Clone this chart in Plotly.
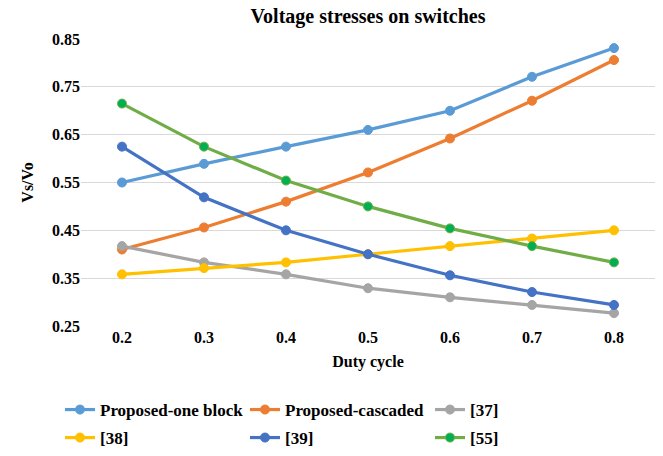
import plotly.graph_objects as go

# Duty cycle values on the horizontal axis
duty_cycle = [0.2, 0.3, 0.4, 0.5, 0.6, 0.7, 0.8]

# Normalised switch voltage stress Vs/Vo for each converter
proposed_one_block = [0.55, 0.589, 0.625, 0.66, 0.70, 0.771, 0.831]
proposed_cascaded = [0.41, 0.456, 0.51, 0.571, 0.642, 0.721, 0.806]
ref_37 = [0.417, 0.383, 0.358, 0.329, 0.31, 0.294, 0.277]
ref_38 = [0.358, 0.371, 0.383, 0.40, 0.417, 0.433, 0.45]
ref_39 = [0.625, 0.519, 0.45, 0.40, 0.356, 0.321, 0.294]
ref_55 = [0.715, 0.625, 0.554, 0.50, 0.454, 0.417, 0.383]

y_ticks = [0.25, 0.35, 0.45, 0.55, 0.65, 0.75, 0.85]

series = [
    ("Proposed-one block", proposed_one_block, "#5B9BD5", "#5B9BD5", "legend"),
    ("Proposed-cascaded", proposed_cascaded, "#ED7D31", "#ED7D31", "legend"),
    ("[37]", ref_37, "#A5A5A5", "#A5A5A5", "legend"),
    ("[38]", ref_38, "#FFC000", "#FFC000", "legend2"),
    ("[39]", ref_39, "#4472C4", "#4472C4", "legend2"),
    ("[55]", ref_55, "#70AD47", "#00B050", "legend2"),
]

FONT = "Liberation Serif, Times New Roman, serif"


def bold_font(size):
    return dict(family=FONT, size=size, color="#000000", weight="bold")


fig = go.Figure()
for name, vals, line_col, mark_col, leg in series:
    fig.add_trace(go.Scatter(
        x=duty_cycle, y=vals, name=name, mode="lines+markers",
        line=dict(color=line_col, width=3.2),
        marker=dict(color=mark_col, size=9, line=dict(color=line_col, width=1)),
        legend=leg,
    ))

legend_common = dict(
    orientation="h", xref="container", yref="container",
    xanchor="left", yanchor="middle", entrywidth=140, entrywidthmode="pixels",
    font=bold_font(17),
    bgcolor="rgba(0,0,0,0)", borderwidth=0, traceorder="normal",
)

fig.update_layout(
    width=663, height=456,
    margin=dict(l=81, r=8, t=39, b=130),
    paper_bgcolor="white", plot_bgcolor="white",
    font=bold_font(16),
    title=dict(text="Voltage stresses on switches", x=368 / 663, xanchor="center",
               y=1 - 16 / 456, yanchor="middle", font=bold_font(20)),
    legend=dict(x=60 / 663, y=1 - 410 / 456, **legend_common),
    legend2=dict(x=60 / 663, y=1 - 438 / 456, **legend_common),
    showlegend=True,
)

fig.update_xaxes(
    range=[0.15, 0.85], tickvals=duty_cycle, ticktext=[f"{v:.1f}" for v in duty_cycle],
    showgrid=False, zeroline=False, showline=False, ticks="",
    tickfont=bold_font(16),
    title=dict(text="Duty cycle", font=bold_font(16), standoff=10),
)
fig.update_yaxes(
    range=[0.25, 0.85], tickvals=y_ticks, ticktext=[f"{v:.2f}" for v in y_ticks],
    showgrid=True, gridcolor="#D9D9D9", gridwidth=1.3, zeroline=False, showline=False, ticks="",
    tickfont=bold_font(16),
    title=dict(text="Vs/Vo", font=bold_font(16), standoff=14),
)

fig.write_html("out.html")
